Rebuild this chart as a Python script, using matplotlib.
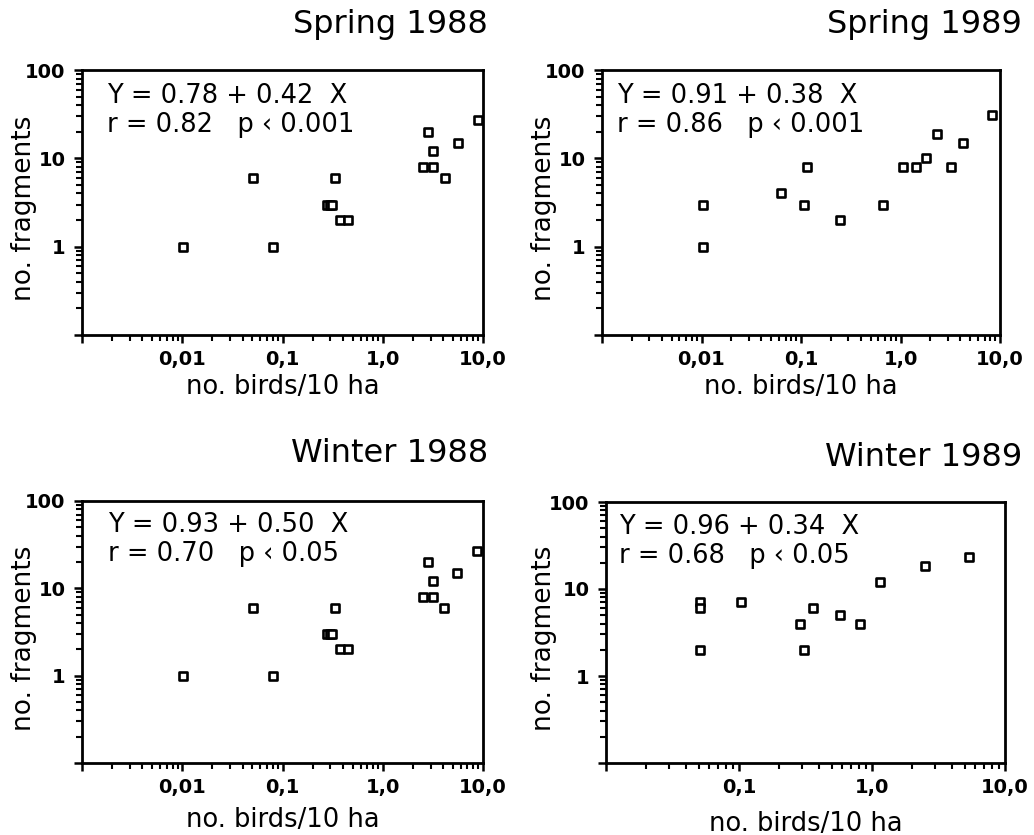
import matplotlib.pyplot as plt
import matplotlib.ticker as mticker
import numpy as np

plt.rcParams['font.family'] = ['DejaVu Sans']

# Spring 1988
sp88_x = [0.0102, 0.051, 0.081, 0.28, 0.295, 0.31, 0.335, 0.376, 0.455,
          2.54, 2.85, 3.2, 3.2, 4.18, 5.67, 8.97]
sp88_y = [1, 6, 1, 3, 3, 3, 6, 2, 2, 8, 20, 12, 8, 6, 15, 27]
# Spring 1989
sp89_x = [0.0103, 0.0103, 0.063, 0.106, 0.116, 0.244, 0.664, 1.05, 1.43,
          1.81, 2.31, 3.2, 4.2, 8.24]
sp89_y = [3, 1, 4, 3, 8, 2, 3, 8, 8, 10, 19, 8, 15, 31]
# Winter 1988
wi88_x = [0.0102, 0.051, 0.081, 0.28, 0.295, 0.31, 0.335, 0.376, 0.455,
          2.54, 2.85, 3.2, 3.2, 4.1, 5.5, 8.8]
wi88_y = [1, 6, 1, 3, 3, 3, 6, 2, 2, 8, 20, 12, 8, 6, 15, 27]
# Winter 1989
wi89_x = [0.051, 0.051, 0.051, 0.103, 0.288, 0.308, 0.362, 0.574, 0.813,
          1.15, 2.5, 5.4]
wi89_y = [7, 6, 2, 7, 4, 2, 6, 5, 4, 12, 18.3, 23.4]

titles = ['Spring 1988', 'Spring 1989', 'Winter 1988', 'Winter 1989']
eqs = ['Y = 0.78 + 0.42  X\nr = 0.82   p ‹ 0.001',
       'Y = 0.91 + 0.38  X\nr = 0.86   p ‹ 0.001',
       'Y = 0.93 + 0.50  X\nr = 0.70   p ‹ 0.05',
       'Y = 0.96 + 0.34  X\nr = 0.68   p ‹ 0.05']
xs = [sp88_x, sp89_x, wi88_x, wi89_x]
ys = [sp88_y, sp89_y, wi88_y, wi89_y]
xmins = [0.001, 0.001, 0.001, 0.01]
xtick_vals = [0.01, 0.1, 1.0, 10.0]
xtick_labels = ['0,01', '0,1', '1,0', '10,0']

W, H = 1034, 835
# axes boxes in pixels: left, right, top, bottom
boxes = [(82, 483, 70, 335), (602, 1000, 70, 335),
         (82, 483, 501, 763), (606, 1005, 502, 763)]
eq_pos = [(107, 83), (617, 83), (108, 512), (619, 514)]
title_pos = [(488, 33), (1022, 33), (488, 462), (1022, 466)]
xlab_y = [394, 394, 827, 831]
ylab_x = [24, 544, 24, 544]

fig = plt.figure(figsize=(W / 100, H / 100), dpi=100)

for i in range(4):
    l, r, t, b = boxes[i]
    ax = fig.add_axes([l / W, 1 - b / H, (r - l) / W, (b - t) / H])
    ax.scatter(xs[i], ys[i], marker='s', s=32, facecolors='white',
               edgecolors='black', linewidths=1.9, zorder=3)
    ax.set_xscale('log')
    ax.set_yscale('log')
    ax.set_xlim(xmins[i], 10)
    ax.set_ylim(0.1, 100)
    ticks = [v for v in xtick_vals if v > xmins[i] * 1.5]
    labs = [s for v, s in zip(xtick_vals, xtick_labels) if v > xmins[i] * 1.5]
    ax.xaxis.set_major_locator(mticker.FixedLocator([xmins[i]] + ticks))
    ax.xaxis.set_major_formatter(mticker.FixedFormatter([''] + labs))
    ax.xaxis.set_minor_locator(mticker.LogLocator(base=10, subs=np.arange(2, 10), numticks=10))
    ax.xaxis.set_minor_formatter(mticker.NullFormatter())
    ax.yaxis.set_major_locator(mticker.FixedLocator([0.1, 1, 10, 100]))
    ax.yaxis.set_major_formatter(mticker.FixedFormatter(['', '1', '10', '100']))
    ax.yaxis.set_minor_locator(mticker.LogLocator(base=10, subs=np.arange(2, 10), numticks=10))
    ax.yaxis.set_minor_formatter(mticker.NullFormatter())
    for sp in ax.spines.values():
        sp.set_linewidth(2)
    ax.tick_params(which='major', direction='out', length=6, width=1.8,
                   labelsize=14)
    ax.tick_params(which='minor', direction='out', length=4, width=1.5)
    for lab in ax.get_xticklabels() + ax.get_yticklabels():
        lab.set_fontweight('bold')
    ax.tick_params(axis='x', pad=5)
    ax.tick_params(axis='y', pad=6)
    # y label placed by hand so it stays inside the figure
    fig.text(ylab_x[i] / W, 1 - ((t + b) / 2 + 6) / H, 'no. fragments',
             fontsize=19, rotation=90, ha='center', va='center')
    ex, ey = eq_pos[i]
    fig.text(ex / W, 1 - ey / H, eqs[i], fontsize=18.5, va='top', ha='left',
             linespacing=1.15)
    tx, ty = title_pos[i]
    fig.text(tx / W, 1 - ty / H, titles[i], fontsize=23, ha='right',
             va='baseline')
    fig.text(((l + r) / 2) / W, 1 - xlab_y[i] / H, 'no. birds/10 ha',
             fontsize=18.5, ha='center', va='baseline')

plt.savefig('out.png', dpi=100)
